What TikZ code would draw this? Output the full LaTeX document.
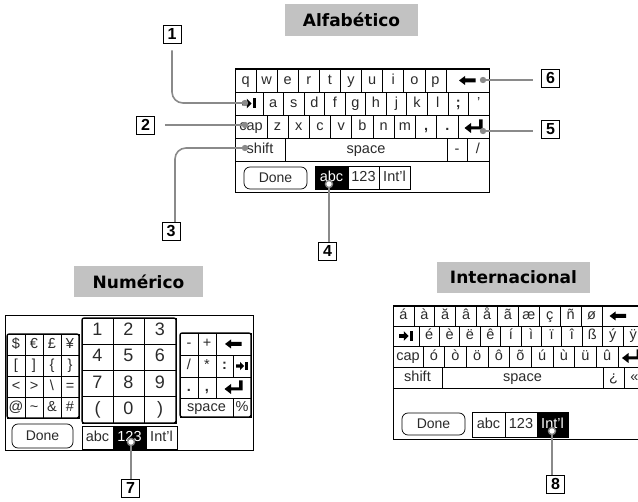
\documentclass[tikz,border=0pt]{standalone}
\usepackage{fontspec}
\setmainfont{Liberation Sans}
\newfontfamily\titlefont{DejaVu Sans}
\usetikzlibrary{calc}
\definecolor{callgray}{HTML}{8A8A8A}
\definecolor{titlegray}{HTML}{C2C2C2}
\definecolor{keytext}{HTML}{2A2A2A}
\newcommand\kk[6]{\draw[keybox] ({#1},{#2}) rectangle ({#3},{#4}); \path ({#1},{#2}) -- node[keylabel] (#6) {#5} ({#3},{#4});}
\newcommand\kkb[6]{\draw[keybox,fill=black] ({#1},{#2}) rectangle ({#3},{#4}); \path ({#1},{#2}) -- node[keylabel,text=white] (#6) {#5} ({#3},{#4});}
\newcommand\apo{\char"27}
\begin{document}
\begin{tikzpicture}[x=1pt,y=-1pt,
  keybox/.style={draw=black,line width=0.8pt},
  keylabel/.style={inner sep=0pt,text=keytext,font=\fontsize{14.5}{15}\selectfont,text height=10.4pt,text depth=3.1pt},
  biglabel/.style={inner sep=0pt,text=keytext,font=\fontsize{18}{18}\selectfont,text height=12.9pt,text depth=3.8pt},
  kbframe/.style={draw=black,line width=1pt},
  padframe/.style={draw=black,line width=1.3pt,rounded corners=2pt},
  donebtn/.style={draw=black,line width=0.7pt,rounded corners=6pt,inner sep=0pt,text=keytext,font=\fontsize{14}{14}\selectfont},
  titlebox/.style={fill=titlegray,inner sep=0pt,font=\titlefont\bfseries\fontsize{17}{17}\selectfont},
  callbox/.style={draw=black,line width=0.9pt,minimum width=18pt,minimum height=18pt,inner sep=0pt,font=\bfseries\fontsize{16}{16}\selectfont},
  callline/.style={draw=callgray,line width=1.6pt},
  calldot/.style={fill=callgray},
  callring/.style={draw=callgray,line width=1.4pt,fill=white},
  bksp/.pic={\fill[black] (-8.5,0) -- (-2.5,-4.5) -- (-2.5,-2) -- (8,-2) -- (8,2) -- (-2.5,2) -- (-2.5,4.5) -- cycle;},
  tabsym/.pic={\fill[black] (-7,-1.8) -- (-2.2,-1.8) -- (-2.2,-4.8) -- (2.5,0) -- (-2.2,4.8) -- (-2.2,1.8) -- (-7,1.8) -- cycle;
               \fill[black] (4,-5) rectangle (7,5);},
  entsym/.pic={\fill[black] (5.5,-7) -- (9,-7) -- (9,3) -- (-2.5,3) -- (-2.5,6.5) -- (-9,1.5) -- (-2.5,-3.5) -- (-2.5,-0.2) -- (5.5,-0.2) -- cycle;}
]
\useasboundingbox (0,0) rectangle (638,502);

% ---------------- titles
\node[titlebox,minimum width=133pt,minimum height=32pt] (talf) at (351.5,20) {Alfabético};
\node[titlebox,minimum width=129pt,minimum height=31pt] (tnum) at (138.5,281.5) {Numérico};
\node[titlebox,minimum width=153pt,minimum height=31pt] (tint) at (513.5,277.5) {Internacional};

% ---------------- Alfabetico keyboard
\draw[kbframe] (235,69) rectangle (489,193);
\foreach \c [count=\i from 0] in {q,w,e,r,t,y,u,i,o,p}
  {\kk{235+\i*21.1}{69}{235+\i*21.1+21.1}{92}{\c}{a1k\i}}
\kk{446}{69}{489}{92}{}{a1bk} \pic at (a1bk) {bksp};
\kk{235}{92}{263}{115}{}{a2tab} \pic at (a2tab) {tabsym};
\foreach \c [count=\i from 0] in {a,s,d,f,g,h,j,k,l,{\textbf{;}},\apo}
  {\kk{263+\i*20.545}{92}{263+\i*20.545+20.545}{115}{\c}{a2k\i}}
\kk{235}{115}{267}{138}{cap}{a3cap}
\foreach \c [count=\i from 0] in {z,x,c,v,b,n,m,{\textbf{,}},{\textbf{.}}}
  {\kk{267+\i*21.222}{115}{267+\i*21.222+21.222}{138}{\c}{a3k\i}}
\kk{458}{115}{489}{138}{}{a3ent} \pic at (a3ent) {entsym};
\kk{235}{138}{285}{161}{shift}{a4sh}
\kk{285}{138}{447}{161}{space}{a4sp}
\kk{447}{138}{467}{161}{-}{a4mi}
\kk{467}{138}{489}{161}{/}{a4sl}
\node[donebtn,minimum width=63pt,minimum height=22pt] (adone) at (275.5,178) {Done};
\kkb{315}{166}{348}{189}{abc}{aabc}
\kk{348}{166}{379}{189}{123}{a123}
\kk{379}{166}{410}{189}{Int\apo l}{aint}

% ---------------- Numerico keyboard
\draw[kbframe] (5,316) rectangle (253,451);
% symbol pad
\kk{7}{334}{25}{355}{\$}{ns11} \kk{25}{334}{43}{355}{€}{ns12} \kk{43}{334}{61}{355}{£}{ns13} \kk{61}{334}{79}{355}{¥}{ns14}
\kk{7}{355}{25}{376}{[}{ns21} \kk{25}{355}{43}{376}{]}{ns22} \kk{43}{355}{61}{376}{\{}{ns23} \kk{61}{355}{79}{376}{\}}{ns24}
\kk{7}{376}{25}{397}{<}{ns31} \kk{25}{376}{43}{397}{>}{ns32} \kk{43}{376}{61}{397}{\textbackslash}{ns33} \kk{61}{376}{79}{397}{=}{ns34}
\kk{7}{397}{25}{418}{@}{ns41} \kk{25}{397}{43}{418}{\textasciitilde}{ns42} \kk{43}{397}{61}{418}{\&}{ns43} \kk{61}{397}{79}{418}{\#}{ns44}
\draw[padframe] (7,334) rectangle (79,418);
% number pad
\foreach \r/\a/\b/\c [count=\j from 0] in {0/1/2/3,1/4/5/6,2/7/8/9,3/(/0/)}{
  \draw[keybox] (82,{318+\j*26.25}) rectangle (113,{318+\j*26.25+26.25});
  \path (82,{318+\j*26.25}) -- node[biglabel] (nn\j a) {\a} (113,{318+\j*26.25+26.25});
  \draw[keybox] (113,{318+\j*26.25}) rectangle (144,{318+\j*26.25+26.25});
  \path (113,{318+\j*26.25}) -- node[biglabel] (nn\j b) {\b} (144,{318+\j*26.25+26.25});
  \draw[keybox] (144,{318+\j*26.25}) rectangle (176,{318+\j*26.25+26.25});
  \path (144,{318+\j*26.25}) -- node[biglabel] (nn\j c) {\c} (176,{318+\j*26.25+26.25});
}
\draw[padframe] (82,318) rectangle (176,423);
% right pad
\kk{180}{333}{198}{355}{-}{nr11} \kk{198}{333}{216}{355}{+}{nr12} \kk{216}{333}{251}{355}{}{nr13} \pic at (nr13) {bksp};
\kk{180}{355}{198}{377}{/}{nr21} \kk{198}{355}{216}{377}{*}{nr22} \kk{216}{355}{233}{377}{\textbf{:}}{nr23} \kk{233}{355}{251}{377}{}{nr24}
\pic[scale=0.85] at (nr24) {tabsym};
\kk{180}{377}{198}{398}{\textbf{.}}{nr31} \kk{198}{377}{216}{398}{\textbf{,}}{nr32} \kk{216}{377}{251}{398}{}{nr33} \pic at (nr33) {entsym};
\kk{180}{398}{233}{417}{space}{nr41} \kk{233}{398}{251}{417}{\%}{nr42}
\draw[padframe] (180,333) rectangle (251,417);
\node[donebtn,minimum width=61pt,minimum height=24pt] (ndone) at (42.5,436) {Done};
\kk{82}{426}{113}{449}{abc}{nabc}
\kkb{113}{426}{146}{449}{123}{n123}
\kk{146}{426}{177}{449}{Int\apo l}{nint}

% ---------------- Internacional keyboard
\begin{scope}
\clip (0,0) rectangle (638,502);
\draw[kbframe] (393,306) rectangle (650,440);
\foreach \c [count=\i from 0] in {á,à,ă,â,å,ã,æ,ç,ñ,ø}
  {\kk{393+\i*20.9}{306}{393+\i*20.9+20.9}{326}{\c}{i1k\i}}
\kk{602}{306}{650}{326}{}{i1bk} \pic at ($(i1bk)+(-8,0)$) {bksp};
\kk{393}{326}{419}{346}{}{i2tab} \pic at (i2tab) {tabsym};
\foreach \c [count=\i from 0] in {é,è,ë,ê,í,ì,ï,î,ß,ý,ÿ}
  {\kk{419+\i*20.4}{326}{419+\i*20.4+20.4}{346}{\c}{i2k\i}}
\kk{393}{346}{423}{367}{cap}{i3cap}
\foreach \c [count=\i from 0] in {ó,ò,ö,ô,õ,ú,ù,ü,û}
  {\kk{423+\i*21.667}{346}{423+\i*21.667+21.667}{367}{\c}{i3k\i}}
\kk{618}{346}{652}{367}{}{i3ent} \pic at ($(i3ent)+(-4,0)$) {entsym};
\kk{393}{367}{442}{388}{shift}{i4sh}
\kk{442}{367}{603}{388}{space}{i4sp}
\kk{603}{367}{624}{388}{¿}{i4q}
\kk{624}{367}{645}{388}{«}{i4g}
\node[donebtn,minimum width=63pt,minimum height=22pt] (idone) at (433.5,424) {Done};
\kk{472}{412}{505}{437}{abc}{iabc}
\kk{505}{412}{537}{437}{123}{i123}
\kkb{537}{412}{568}{437}{Int\apo l}{iint}
\end{scope}

% ---------------- callouts
\node[callbox] (c1) at (172,34) {1};
\node[callbox] (c2) at (145.5,125) {2};
\node[callbox] (c3) at (171,231) {3};
\node[callbox] (c4) at (327.5,251) {4};
\node[callbox] (c5) at (550.5,129) {5};
\node[callbox] (c6) at (550.5,78) {6};
\node[callbox] (c7) at (130.5,488) {7};
\node[callbox] (c8) at (555.5,484) {8};

\coordinate (d1) at (245,103);
\coordinate (d2) at (245,125);
\coordinate (d3) at (245,148);
\coordinate (d5) at (483,131);
\coordinate (d6) at (483,80);
\coordinate (r4) at (329,184);
\coordinate (r7) at (131,442);
\coordinate (r8) at (552,431);
\coordinate (k3) at (175,222);

\draw[callline,rounded corners=11pt,shorten <=7pt] (c1.south) |- (d1);
\draw[callline,shorten <=10pt] (c2.east) -- (d2);
\draw[callline,rounded corners=11pt] (k3) |- (d3);
\draw[callline] (r4) -- (r4 |- c4.north);
\draw[callline,shorten >=8pt] (d5) -- (d5 -| c5.west);
\draw[callline,shorten >=8pt] (d6) -- (d6 -| c6.west);
\draw[callline] (r7) -- (r7 |- c7.north);
\draw[callline] (r8) -- (r8 |- c8.north);

\foreach \d in {d1,d2,d3,d5,d6} {\fill[calldot] (\d) circle (3.2pt);}
\foreach \d in {r4,r7,r8} {\draw[callring] (\d) circle (3.5pt);}
\end{tikzpicture}
\end{document}
